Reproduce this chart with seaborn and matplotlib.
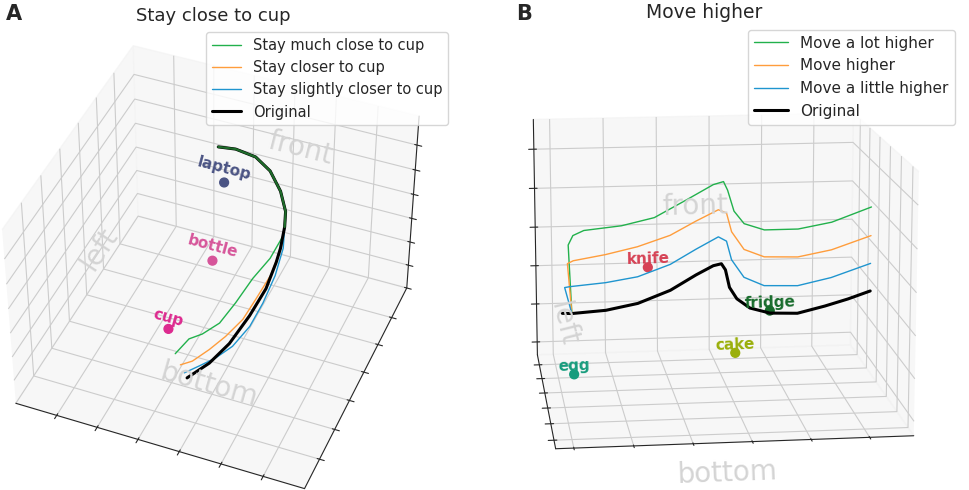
import matplotlib
matplotlib.use("Agg")
import matplotlib.pyplot as plt
import seaborn as sns

# -------------------- data: panel A (stay close to cup) -------------------- #

a_orig_x = [0.447, 0.499, 0.566, 0.624, 0.675, 0.707, 0.716, 0.717, 0.711, 0.697, 0.666, 0.625, 0.576, 0.515]
a_orig_y = [0.648, 0.667, 0.671, 0.649, 0.610, 0.573, 0.543, 0.506, 0.486, 0.435, 0.373, 0.302, 0.252, 0.212]
a_orig_z = [0.96, 0.95, 0.93, 0.90, 0.85, 0.79, 0.74, 0.66, 0.60, 0.50, 0.40, 0.30, 0.22, 0.15]

a_much_x = [0.447, 0.499, 0.566, 0.624, 0.675, 0.707, 0.716, 0.712, 0.692, 0.652, 0.617, 0.584, 0.534, 0.491, 0.458]
a_much_y = [0.648, 0.667, 0.671, 0.649, 0.610, 0.573, 0.543, 0.545, 0.481, 0.433, 0.375, 0.320, 0.296, 0.288, 0.251]
a_much_z = [0.96, 0.95, 0.93, 0.90, 0.85, 0.79, 0.74, 0.69, 0.62, 0.54, 0.45, 0.38, 0.32, 0.28, 0.22]

a_closer_x = [0.447, 0.499, 0.566, 0.624, 0.675, 0.707, 0.716, 0.716, 0.708, 0.682, 0.658, 0.616, 0.573, 0.525, 0.487]
a_closer_y = [0.648, 0.667, 0.671, 0.649, 0.610, 0.573, 0.543, 0.515, 0.443, 0.385, 0.334, 0.292, 0.260, 0.233, 0.224]
a_closer_z = [0.96, 0.95, 0.93, 0.90, 0.85, 0.79, 0.74, 0.65, 0.57, 0.49, 0.42, 0.35, 0.29, 0.23, 0.20]

a_slight_x = [0.447, 0.499, 0.566, 0.624, 0.675, 0.707, 0.716, 0.722, 0.719, 0.701, 0.679, 0.639, 0.591, 0.545, 0.501]
a_slight_y = [0.648, 0.667, 0.671, 0.649, 0.610, 0.573, 0.543, 0.518, 0.457, 0.399, 0.342, 0.294, 0.266, 0.242, 0.223]
a_slight_z = [0.96, 0.95, 0.93, 0.90, 0.85, 0.79, 0.74, 0.65, 0.56, 0.46, 0.38, 0.30, 0.24, 0.20, 0.16]

a_obj_names = ["laptop", "bottle", "cup"]
a_obj_x = [0.378, 0.426, 0.355]
a_obj_y = [0.872, 0.649, 0.436]
a_obj_z = [0.50, 0.30, 0.10]
a_obj_colors = ["#4b5484", "#d6559a", "#dd2a8f"]

a_labels = ["Stay much close to cup", "Stay closer to cup", "Stay slightly closer to cup", "Original"]

# -------------------- data: panel B (move higher) -------------------- #

b_orig_x = [0.052, 0.080, 0.180, 0.274, 0.370, 0.446, 0.497, 0.521, 0.533, 0.545, 0.567, 0.606, 0.666, 0.748, 0.830, 0.899, 0.966]
b_orig_z = [0.343, 0.341, 0.350, 0.374, 0.423, 0.482, 0.517, 0.524, 0.499, 0.428, 0.381, 0.342, 0.319, 0.315, 0.341, 0.367, 0.397]

b_lot_x = [0.080, 0.072, 0.086, 0.118, 0.228, 0.324, 0.418, 0.497, 0.527, 0.539, 0.558, 0.588, 0.648, 0.748, 0.848, 0.966]
b_lot_z = [0.341, 0.615, 0.652, 0.671, 0.686, 0.715, 0.782, 0.840, 0.851, 0.817, 0.733, 0.682, 0.655, 0.655, 0.679, 0.736]

b_higher_x = [0.080, 0.069, 0.086, 0.180, 0.274, 0.370, 0.446, 0.512, 0.536, 0.551, 0.588, 0.648, 0.748, 0.848, 0.966]
b_higher_z = [0.341, 0.541, 0.552, 0.573, 0.601, 0.643, 0.697, 0.740, 0.726, 0.651, 0.579, 0.547, 0.543, 0.568, 0.621]

b_little_x = [0.080, 0.060, 0.075, 0.180, 0.274, 0.370, 0.446, 0.512, 0.536, 0.551, 0.588, 0.648, 0.748, 0.848, 0.966]
b_little_z = [0.341, 0.446, 0.449, 0.461, 0.481, 0.527, 0.585, 0.632, 0.614, 0.539, 0.467, 0.431, 0.427, 0.456, 0.509]

b_depth = 0.5

b_obj_names = ["knife", "fridge", "cake", "egg"]
b_obj_x = [0.34, 0.70, 0.585, 0.10]
b_obj_y = [0.883, 0.736, 0.67, 0.756]
b_obj_z = [0.40, 0.25, 0.10, 0.0]
b_obj_colors = ["#d64255", "#176b2b", "#9aaf0a", "#179c7d"]

b_labels = ["Move a lot higher", "Move higher", "Move a little higher", "Original"]

# -------------------- style -------------------- #

sns.set_style("white")
plt.rcParams["font.family"] = ["DejaVu Sans"]
pal = ["#22b14c", "#ff9d3c", "#1f95cf"]
wall_color = "#d4d4d4"

TICKS_A = ([0.146, 0.289, 0.432, 0.575, 0.718, 0.861],
           [0.136, 0.277, 0.418, 0.559, 0.700, 0.841],
           [0.0, 0.14, 0.28, 0.42, 0.56, 0.70, 0.84])
TICKS_B = ([0.05, 0.215, 0.38, 0.545, 0.71, 0.875],
           [0.08, 0.24, 0.40, 0.56, 0.72, 0.88],
           [0.056, 0.22, 0.384, 0.548, 0.712, 0.876])


def setup_box(ax, elev, azim, ticks, zoom):
    ax.view_init(elev=elev, azim=azim)
    ax.set_xlim(0, 1)
    ax.set_ylim(0, 1)
    ax.set_zlim(0, 1)
    ax.set_box_aspect((4, 4, 3), zoom=zoom)
    ax.set_xticks(ticks[0])
    ax.set_yticks(ticks[1])
    ax.set_zticks(ticks[2])
    for axis in (ax.xaxis, ax.yaxis, ax.zaxis):
        axis.set_ticklabels([])
        axis.label.set_visible(False)
        axis.set_pane_color((0.95, 0.95, 0.95, 0.6))
        axis._axinfo["grid"]["color"] = (0.8, 0.8, 0.8, 1.0)
        axis._axinfo["grid"]["linewidth"] = 0.8
    ax.set_facecolor("none")


def draw_objects(ax, names, xs, ys, zs, colors):
    ax.scatter(xs, ys, zs, s=40, c=colors, depthshade=False)
    for n, x, y, z, c in zip(names, xs, ys, zs, colors):
        ax.text(x, y, z, n, zdir="x", color=c, fontsize=11, fontweight="bold", ha="center", va="bottom")


fig = plt.figure(figsize=(9.69, 4.9), dpi=100)

# ---- panel A ----
axA = fig.add_axes([-0.013, -0.004, 0.46, 0.92], projection="3d")
setup_box(axA, 42, -68, TICKS_A, 1.08)
axA.text(0.6, 1.0, 0.66, "front", zdir="x", fontsize=20, color=wall_color, ha="center", va="center")
axA.text(0.0, 0.67, 0.16, "left", zdir="y", fontsize=20, color=wall_color, ha="center", va="center")
axA.text(0.55, 0.31, 0.0, "bottom", zdir="x", fontsize=20, color=wall_color, ha="center", va="center")
draw_objects(axA, a_obj_names, a_obj_x, a_obj_y, a_obj_z, a_obj_colors)
axA.plot(a_much_x, a_much_y, a_much_z, color=pal[0], lw=1.0, label=a_labels[0])
axA.plot(a_closer_x, a_closer_y, a_closer_z, color=pal[1], lw=1.0, label=a_labels[1])
axA.plot(a_slight_x, a_slight_y, a_slight_z, color=pal[2], lw=1.0, label=a_labels[2])
axA.plot(a_orig_x, a_orig_y, a_orig_z, color="black", lw=2.2, label=a_labels[3])
axA.plot(a_orig_x[:7], a_orig_y[:7], a_orig_z[:7], color="#1e6b2a", lw=1.6)
axA.legend(loc="upper right", bbox_to_anchor=(0.47, 0.95), bbox_transform=fig.transFigure,
           fontsize=10.5, frameon=True, handlelength=2.0)

# ---- panel B ----
axB = fig.add_axes([0.501, -0.013, 0.46, 0.9], projection="3d")
setup_box(axB, 13, -97, TICKS_B, 1.2)
axB.text(0.5, 1.0, 0.62, "front", zdir="x", fontsize=20, color=wall_color, ha="center", va="center")
axB.text(0.035, 0.15, 0.42, "left", zdir=(0, -1, 0), fontsize=20, color=wall_color, ha="center", va="center")
axB.text(0.44, -0.27, 0.0, "bottom", zdir="x", fontsize=20, color=wall_color, ha="center", va="center")
draw_objects(axB, b_obj_names, b_obj_x, b_obj_y, b_obj_z, b_obj_colors)
axB.plot(b_lot_x, [b_depth] * len(b_lot_x), b_lot_z, color=pal[0], lw=1.0, label=b_labels[0])
axB.plot(b_higher_x, [b_depth] * len(b_higher_x), b_higher_z, color=pal[1], lw=1.0, label=b_labels[1])
axB.plot(b_little_x, [b_depth] * len(b_little_x), b_little_z, color=pal[2], lw=1.0, label=b_labels[2])
axB.plot(b_orig_x, [b_depth] * len(b_orig_x), b_orig_z, color="black", lw=2.2, label=b_labels[3])
axB.legend(loc="upper right", bbox_to_anchor=(0.993, 0.955), bbox_transform=fig.transFigure,
           fontsize=11, frameon=True, handlelength=2.2)

# ---- titles and panel letters ----
fig.text(0.22, 0.968, "Stay close to cup", fontsize=13, ha="center", va="center")
fig.text(0.727, 0.975, "Move higher", fontsize=13.5, ha="center", va="center")
fig.text(0.006, 0.972, "A", fontsize=15, fontweight="bold", ha="left", va="center")
fig.text(0.533, 0.972, "B", fontsize=15, fontweight="bold", ha="left", va="center")

fig.savefig("out.png", dpi=100)
